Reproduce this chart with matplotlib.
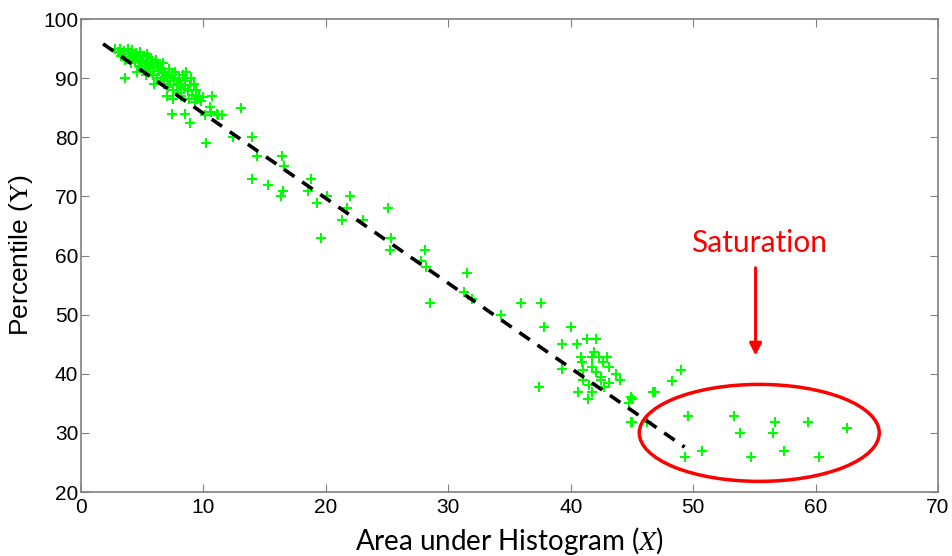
import matplotlib
matplotlib.use("Agg")
import matplotlib.pyplot as plt
from matplotlib.patches import Ellipse

plt.rcParams["mathtext.fontset"] = "stix"

# Scatter data: area under histogram (X) vs percentile (Y)
x_vals = [
    # dense cluster, top-left
    2.8, 3.0, 3.2, 3.3, 3.5, 3.6, 3.8, 3.9, 4.0, 4.1, 4.2, 4.3, 4.4, 4.5, 4.6, 4.7,
    4.8, 4.9, 5.0, 5.1, 5.2, 5.3, 5.4, 5.5, 5.6, 5.7, 5.8, 5.9, 6.0, 6.1, 6.2, 6.3,
    6.4, 6.5, 6.6, 6.7, 6.8, 6.9, 7.0, 7.1, 7.2, 7.3, 7.4, 7.5, 7.6, 7.7, 7.8, 7.9,
    8.0, 8.1, 8.2, 8.3, 8.4, 8.5, 8.6, 8.7, 8.8, 8.9, 9.0, 9.1, 9.2, 9.3, 9.4, 9.6,
    9.8, 4.0, 5.5, 6.0, 7.0, 6.5, 7.5, 10.0, 10.7, 10.5, 11.2, 11.5, 10.1, 3.4, 4.6,
    5.3, 6.8, 8.2, 9.5,
    # outliers near cluster
    3.6, 7.4, 8.5, 8.9, 10.2, 11.1, 10.6, 13.1,
    # middle band
    12.4, 14.0, 14.4, 16.4, 16.6, 14.0, 15.3, 16.5, 16.3, 18.8, 18.5, 19.3, 20.1,
    22.0, 21.7, 21.3, 23.0, 19.6, 25.1, 25.3, 25.2, 28.1, 27.8, 28.2, 28.5,
    31.5, 31.3, 31.9, 35.9, 34.3, 37.6, 37.8, 40.0, 39.3, 40.5, 41.3, 42.1, 39.3, 37.4,
    # second cluster around x = 42
    40.8, 40.9, 41.7, 41.9, 42.3, 43.0, 42.6, 43.1, 41.7, 41.0, 42.1, 42.5, 43.7,
    44.0, 41.0, 41.5, 42.5, 42.7, 40.6, 41.7, 41.4, 43.1,
    44.9, 45.0, 44.8, 44.9, 45.0, 46.2, 46.7, 46.9, 48.3, 49.0,
    # saturation region
    49.6, 53.3, 56.7, 59.4, 62.6, 53.8, 56.5, 50.7, 49.3, 54.7, 57.4, 60.3,
]
y_vals = [
    95.0, 94.5, 95.0, 93.8, 94.6, 93.0, 95.0, 94.0, 93.5, 92.5, 94.8, 93.9, 92.8, 94.2, 93.4, 92.0,
    94.5, 93.0, 92.5, 93.8, 91.5, 92.8, 94.0, 92.0, 91.0, 93.2, 92.4, 90.5, 91.8, 93.0, 90.0, 92.0,
    91.2, 89.5, 90.8, 92.5, 89.0, 91.0, 90.2, 88.5, 91.5, 89.5, 90.5, 88.0, 89.8, 91.0, 88.8, 87.5,
    90.0, 89.0, 87.0, 90.6, 88.2, 89.5, 91.0, 87.8, 86.5, 88.8, 90.0, 87.2, 89.0, 86.0, 88.0, 87.0,
    86.2, 93.0, 93.5, 89.0, 87.0, 91.5, 86.5, 86.8, 86.9, 85.2, 83.8, 83.8, 83.8, 94.0, 91.0,
    90.5, 90.0, 88.5, 86.5,
    90.0, 84.0, 84.0, 82.4, 79.0, 84.0, 84.3, 85.0,
    80.0, 80.0, 76.9, 76.9, 75.1, 72.9, 71.9, 70.9, 70.0, 72.9, 70.9, 68.9, 70.0,
    70.0, 68.0, 66.0, 66.0, 63.0, 68.0, 63.0, 60.9, 60.9, 59.1, 58.0, 51.9,
    57.0, 53.9, 52.7, 52.0, 50.0, 52.0, 47.9, 47.9, 45.0, 45.0, 45.9, 45.9, 40.8, 37.7,
    42.9, 42.0, 42.9, 43.7, 42.9, 42.9, 42.0, 41.2, 41.2, 40.6, 40.3, 39.5, 40.0,
    38.9, 38.9, 38.1, 38.9, 37.8, 36.9, 36.9, 35.8, 38.4,
    36.1, 35.8, 35.0, 31.8, 31.8, 31.8, 36.9, 36.9, 38.7, 40.6,
    32.8, 32.8, 31.8, 31.8, 30.8, 30.0, 30.0, 26.9, 25.9, 25.9, 26.9, 25.9,
]

# Fitted line end points
fit_x = [1.8, 49.3]
fit_y = [95.8, 27.6]

x_ticks = [0, 10, 20, 30, 40, 50, 60, 70]
y_ticks = [20, 30, 40, 50, 60, 70, 80, 90, 100]

fig = plt.figure(figsize=(9.52, 5.56), dpi=100)
ax = fig.add_axes([0.0851, 0.1151, 0.9002, 0.8507])

ax.plot(fit_x, fit_y, color="black", lw=2.6, linestyle=(0, (3.5, 2.6)), zorder=3)
ax.plot(x_vals, y_vals, linestyle="none", marker="+", color="#00ff00",
        markersize=6.5, markeredgewidth=1.5, zorder=2)

ax.add_patch(Ellipse((55.4, 30.0), 19.6, 16.4, fill=False, edgecolor="#ff0000",
                     lw=2.5, zorder=4))
ax.text(55.4, 62.1, "Saturation", color="#ff0000", ha="center", va="center",
        fontsize=21.5, family="Lato")
ax.annotate("", xy=(55.1, 42.6), xytext=(55.1, 58.4),
            arrowprops=dict(arrowstyle="-|>", color="#ff0000", lw=2.2,
                            mutation_scale=18))

ax.set_xlim(0, 70)
ax.set_ylim(20, 100)
ax.set_xticks(x_ticks)
ax.set_yticks(y_ticks)
ax.set_xticklabels([str(v) for v in x_ticks], fontsize=15, family="Liberation Sans")
ax.set_yticklabels([str(v) for v in y_ticks], fontsize=15, family="Liberation Sans")
ax.tick_params(direction="in", top=True, right=True, length=6, color="#808080",
               pad=2)
ax.tick_params(axis="x", pad=4)
for s in ax.spines.values():
    s.set_color("#808080")
    s.set_linewidth(1.2)

ax.set_xlabel(r"Area under Histogram ($X$)", fontsize=20, family="Lato", labelpad=6)
ax.set_ylabel(r"Percentile ($\mathrm{Y}$)", fontsize=19, family="Liberation Sans",
              labelpad=6)

fig.savefig("out.png", dpi=100)
